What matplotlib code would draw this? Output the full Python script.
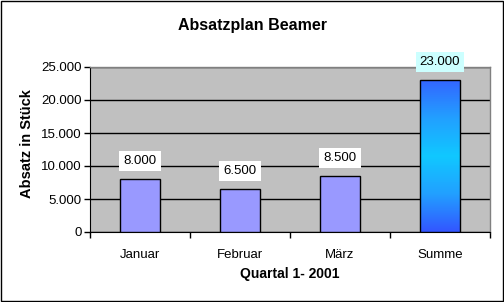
import numpy as np
import matplotlib
matplotlib.use("Agg")
import matplotlib.pyplot as plt
from matplotlib.patches import Rectangle
from matplotlib.colors import LinearSegmentedColormap

# data
months = ["Januar", "Februar", "März", "Summe"]
absatz = [8000, 6500, 8500, 23000]
y_ticks = [0, 5000, 10000, 15000, 20000, 25000]
y_tick_labels = ["0", "5.000", "10.000", "15.000", "20.000", "25.000"]
value_labels = ["8.000", "6.500", "8.500", "23.000"]

plt.rcParams["font.family"] = ["Liberation Sans", "DejaVu Sans"]

W, H = 504, 302
fig = plt.figure(figsize=(W / 100, H / 100), dpi=100)
fig.patch.set_facecolor("white")

# plot area in pixels: x 90..490, y 67..232
ax = fig.add_axes([90 / W, (H - 232) / H, 400 / W, 165 / H])
ax.set_facecolor("#C0C0C0")

x = np.arange(len(months))
bars = ax.bar(x, absatz, width=0.4, color="#9999FF", edgecolor="black",
              linewidth=1, zorder=3)

# gradient fill for the sum bar
sb = bars[-1]
grad = LinearSegmentedColormap.from_list(
    "summe", ["#3355FF", "#22A0FF", "#10C8FF", "#22A0FF", "#3366FF"])
img = ax.imshow(np.linspace(0, 1, 256).reshape(-1, 1), cmap=grad, aspect="auto",
                extent=(sb.get_x(), sb.get_x() + sb.get_width(), 0, sb.get_height()),
                origin="lower", zorder=3)
img.set_clip_path(sb)
sb.set_facecolor("none")
sb.set_zorder(4)

ax.set_xlim(-0.5, len(months) - 0.5)
ax.set_ylim(0, 25000)
ax.set_yticks(y_ticks)
ax.set_yticklabels(y_tick_labels, fontsize=9.5)
ax.yaxis.grid(True, color="black", linewidth=1, zorder=1)
ax.set_axisbelow(True)

ax.set_xticks(x)
ax.set_xticklabels(months, fontsize=9.5)
ax.tick_params(axis="x", which="major", length=0, pad=12)
ax.set_xticks(np.arange(-0.5, len(months)), minor=True)
ax.tick_params(axis="x", which="minor", length=4, width=1, color="black")
ax.tick_params(axis="y", length=4, width=1, color="black", pad=2)

for side in ["top", "right"]:
    ax.spines[side].set_color("#808080")
    ax.spines[side].set_linewidth(1)
ax.spines["left"].set_color("black")
ax.spines["bottom"].set_color("black")

for i, (b, lab) in enumerate(zip(bars, value_labels)):
    box = "#CCFFFF" if i == len(bars) - 1 else "white"
    ax.annotate(lab, (b.get_x() + b.get_width() / 2, b.get_height()),
                xytext=(0, 13), textcoords="offset points",
                ha="center", va="center", fontsize=9.5, zorder=5,
                bbox=dict(boxstyle="square,pad=0.3", fc=box, ec="none"),
                annotation_clip=False)

fig.text(252 / W, 1 - 25.5 / H, "Absatzplan Beamer", ha="center", va="center",
         fontsize=11.5, fontweight="bold")
fig.text(27 / W, 1 - 144 / H, "Absatz in Stück", ha="center", va="center",
         rotation=90, fontsize=10.5, fontweight="bold")
fig.text(290 / W, 1 - 274 / H, "Quartal 1- 2001", ha="center", va="center",
         fontsize=10, fontweight="bold")

# outer chart border
fig.patches.append(Rectangle((0.5 / W, 1.5 / H), 502 / W, 300 / H,
                             transform=fig.transFigure, fill=False,
                             edgecolor="black", linewidth=1))

fig.savefig("out.png", dpi=100)
